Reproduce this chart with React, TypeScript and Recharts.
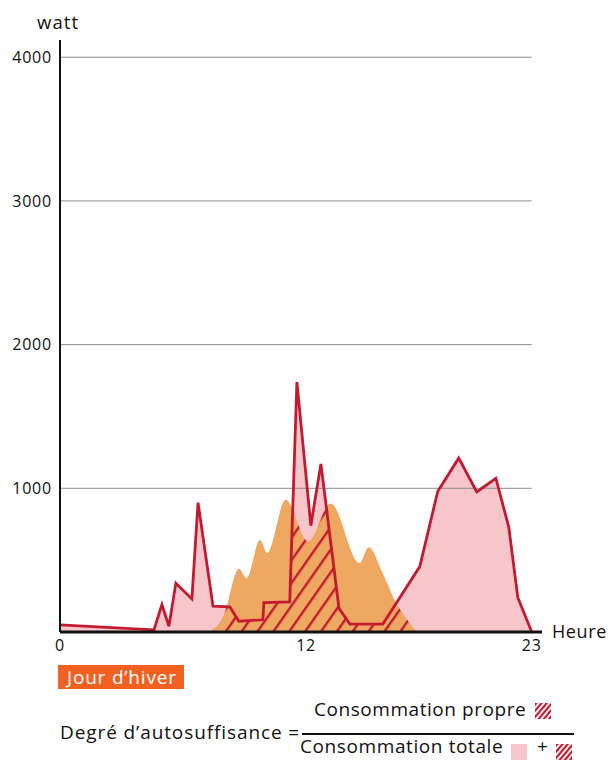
import { useEffect, useRef, useState } from "react";
import { Area, ComposedChart, Line, ReferenceLine, XAxis, YAxis } from "recharts";

// consommation (ligne rouge)
const consHours = [0, 4.58, 4.97, 5.31, 5.65, 6.43, 6.73, 7.46, 8.28, 8.72, 9.89, 9.94, 11.2, 11.55, 12.23, 12.72, 13.6, 14.13, 15.74, 17.54, 18.42, 19.44, 20.32, 21.25, 21.88, 22.32, 23];
const consWatts = [50, 15, 190, 40, 340, 230, 900, 180, 175, 75, 85, 205, 210, 1740, 740, 1170, 165, 55, 55, 455, 980, 1210, 975, 1070, 730, 240, 0];

// production solaire (orange)
const prodHours = [7.3, 8.0, 8.72, 9.1, 9.75, 10.1, 11.0, 12.1, 13.2, 14.6, 15.05, 15.7, 16.4, 17.06, 17.4];
const prodWatts = [0, 120, 440, 375, 640, 550, 920, 630, 895, 480, 590, 420, 200, 60, 0];

const xTicks = [0, 12, 23];
const yTicks = [1000, 2000, 3000, 4000];

const RED = "#c41a30";
const PINK = "#f6c6cb";
const ORANGE = "#eea862";
const GRID = "#8c8c8c";
const FONT = "'Open Sans', sans-serif";

type Row = { h: number; cons?: number; prod?: number };
const table: Row[] = consHours.map((h, i) => ({ h, cons: consWatts[i] }));
prodHours.forEach((h, i) => {
  const r = table.find((t) => t.h === h);
  if (r) r.prod = prodWatts[i];
  else table.push({ h, prod: prodWatts[i] });
});
table.sort((a, b) => a.h - b.h);

function HatchBox({ left, top }: { left: number; top: number }) {
  return (
    <svg width={16} height={16} style={{ position: "absolute", left, top }}>
      <defs>
        <pattern id={`lg${left}${top}`} patternUnits="userSpaceOnUse" width={4} height={4} patternTransform="rotate(40)">
          <rect x={0} y={0} width={2.2} height={4} fill={RED} />
        </pattern>
      </defs>
      <rect width={16} height={16} fill="#fff" />
      <rect width={16} height={16} fill={`url(#lg${left}${top})`} />
    </svg>
  );
}

export default function App() {
  const wrapRef = useRef<HTMLDivElement>(null);
  const [clipD, setClipD] = useState("");

  // the hatched part is the consumption clipped by the production shape
  useEffect(() => {
    let tries = 0;
    const id = setInterval(() => {
      tries++;
      const root = wrapRef.current;
      if (root) {
        const prod = Array.from(root.querySelectorAll("path")).find(
          (p) => p.getAttribute("fill") === ORANGE && p.getAttribute("d")
        );
        if (prod) {
          setClipD(prod.getAttribute("d") || "");
          clearInterval(id);
        }
      }
      if (tries > 200) clearInterval(id);
    }, 20);
    return () => clearInterval(id);
  }, []);

  const txt = { position: "absolute" as const, lineHeight: 1, whiteSpace: "nowrap" as const };
  const tick = { fontSize: 16, fill: "#111", fontFamily: FONT, letterSpacing: 0.8 };

  return (
    <div
      ref={wrapRef}
      style={{ position: "absolute", left: 0, top: 0, width: 608, height: 760, background: "#fff", fontFamily: FONT, color: "#111" }}
    >
      <style>{`path[fill="url(#hatch)"] { clip-path: url(#prodClip); }`}</style>
      <ComposedChart width={608} height={660} data={table} margin={{ top: 40, right: 66, left: 0, bottom: 0 }}>
        <defs>
          <pattern id="hatch" patternUnits="userSpaceOnUse" width={13} height={13} patternTransform="rotate(35)">
            <rect x={0} y={0} width={2.4} height={13} fill={RED} />
          </pattern>
          <clipPath id="prodClip">
            <path d={clipD} />
          </clipPath>
        </defs>
        <XAxis
          dataKey="h"
          type="number"
          domain={[0, 23.5]}
          ticks={xTicks}
          tickLine={false}
          axisLine={{ stroke: "#111", strokeWidth: 3 }}
          tick={tick}
          height={28}
        />
        <YAxis
          type="number"
          domain={[0, 4120]}
          ticks={yTicks}
          tickLine={false}
          axisLine={{ stroke: "#111", strokeWidth: 2 }}
          tick={tick}
          width={60}
        />
        {yTicks.map((v) => (
          <ReferenceLine key={v} segment={[{ x: 0, y: v }, { x: 23, y: v }]} stroke={GRID} strokeWidth={1} />
        ))}
        <Area dataKey="cons" type="linear" fill={PINK} fillOpacity={1} stroke="none" connectNulls isAnimationActive={false} />
        <Area dataKey="prod" type="monotone" fill={ORANGE} fillOpacity={1} stroke="none" connectNulls isAnimationActive={false} />
        <Area dataKey="cons" type="linear" fill="url(#hatch)" fillOpacity={1} stroke="none" connectNulls isAnimationActive={false} />
        <Line dataKey="cons" type="linear" stroke={RED} strokeWidth={2.8} dot={false} connectNulls isAnimationActive={false} />
      </ComposedChart>

      <div style={{ ...txt, left: 37, top: 13, fontSize: 18.5, letterSpacing: 1.1 }}>watt</div>
      <div style={{ ...txt, left: 552, top: 622, fontSize: 18, letterSpacing: 0.6 }}>Heure</div>

      <div
        style={{ position: "absolute", left: 58, top: 665, width: 126, height: 24, background: "#f26122", color: "#fff", fontSize: 19, letterSpacing: 0.8, lineHeight: "24px", paddingLeft: 9, boxSizing: "border-box", whiteSpace: "nowrap" }}
      >
        Jour d’hiver
      </div>

      <div style={{ ...txt, left: 60, top: 723, fontSize: 19, letterSpacing: 0.9 }}>Degré d’autosuffisance =</div>
      <div style={{ ...txt, left: 314, top: 700, fontSize: 19, letterSpacing: 0.55 }}>Consommation propre</div>
      <HatchBox left={535} top={703} />
      <div style={{ position: "absolute", left: 302, top: 733, width: 272, height: 1.5, background: "#111" }} />
      <div style={{ ...txt, left: 300, top: 737, fontSize: 19, letterSpacing: 0.6 }}>Consommation totale</div>
      <div style={{ position: "absolute", left: 511, top: 744, width: 16, height: 16, background: PINK }} />
      <div style={{ ...txt, left: 537, top: 737, fontSize: 19 }}>+</div>
      <HatchBox left={556} top={744} />
    </div>
  );
}
